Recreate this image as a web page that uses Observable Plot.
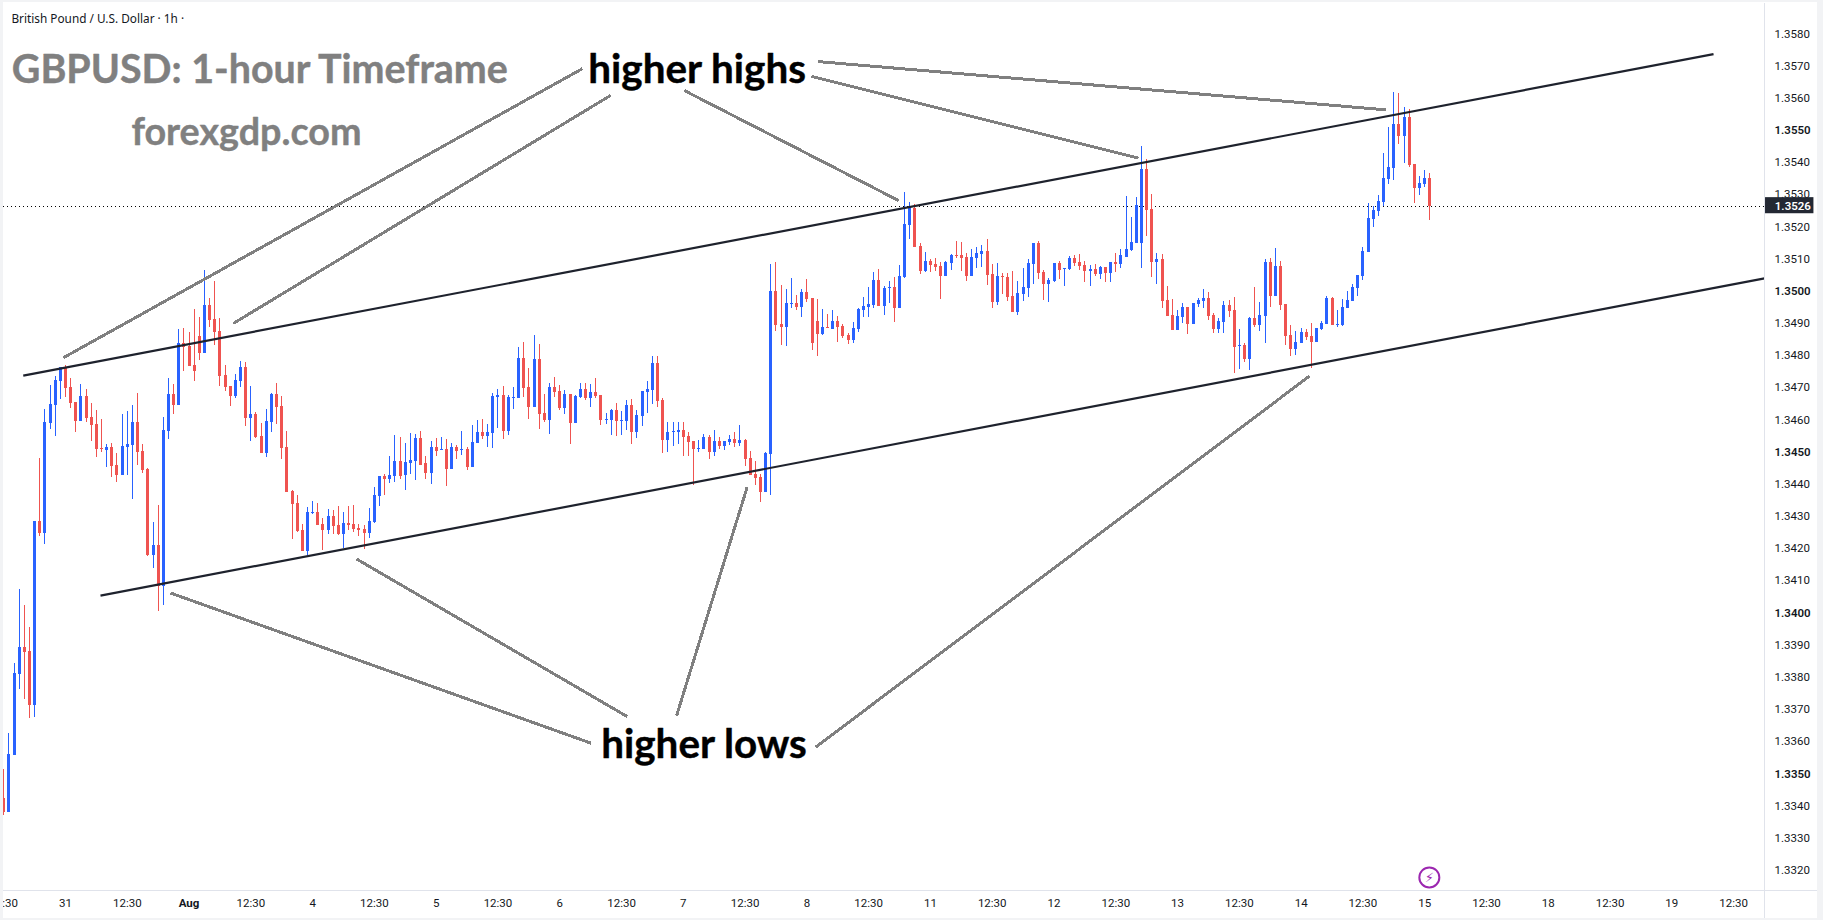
<!DOCTYPE html>
<html><head><meta charset="utf-8">
<style>
html,body{margin:0;padding:0;background:#fff;overflow:hidden}
#wrap{position:relative;width:1823px;height:920px}
#wrap svg{display:block}
#edge{position:absolute;inset:0;box-sizing:border-box;border-style:solid;border-color:#f2f3f5;border-width:2px 6px 2px 3px;pointer-events:none}
</style>
<script src="https://cdn.jsdelivr.net/npm/d3@7"></script>
<script src="https://cdn.jsdelivr.net/npm/@observablehq/plot@0.6"></script>
</head><body><div id="wrap"><div id="edge"></div></div>
<script>
const opens=[1.33423,1.33381,1.33557,1.33810,1.33893,1.33881,1.33713,1.34284,1.34247,1.34590,
1.34645,1.34720,1.34763,1.34701,1.34654,1.34595,1.34673,1.34608,1.34586,1.34511,
1.34505,1.34514,1.34459,1.34427,1.34514,1.34521,1.34592,1.34502,1.34446,1.34179,
1.34210,1.34082,1.34565,1.34679,1.34645,1.34838,1.34828,1.34769,1.34859,1.34807,
1.34956,1.34912,1.34875,1.34738,1.34704,1.34673,1.34720,1.34763,1.34605,1.34617,
1.34549,1.34496,1.34592,1.34679,1.34642,1.34514,1.34378,1.34340,1.34257,1.34191,
1.34309,1.34312,1.34275,1.34257,1.34300,1.34272,1.34244,1.34278,1.34275,1.34263,
1.34260,1.34247,1.34281,1.34362,1.34424,1.34415,1.34424,1.34471,1.34427,1.34465,
1.34471,1.34542,1.34465,1.34434,1.34515,1.34505,1.34508,1.34446,1.34515,1.34505,
1.34508,1.34452,1.34527,1.34561,1.34549,1.34558,1.34670,1.34676,1.34564,1.34667,
1.34667,1.34791,1.34701,1.34639,1.34788,1.34620,1.34598,1.34701,1.34689,1.34636,
1.34679,1.34589,1.34670,1.34695,1.34667,1.34685,1.34676,1.34598,1.34598,1.34629,
1.34595,1.34595,1.34645,1.34561,1.34611,1.34685,1.34692,1.34776,1.34661,1.34536,
1.34561,1.34561,1.34567,1.34549,1.34533,1.34508,1.34508,1.34546,1.34499,1.34533,
1.34518,1.34530,1.34539,1.34527,1.34536,1.34480,1.34431,1.34421,1.34375,1.34493,
1.34999,1.34897,1.34887,1.34959,1.34962,1.34949,1.34996,1.34977,1.34906,1.34865,
1.34887,1.34881,1.34906,1.34890,1.34862,1.34847,1.34881,1.34940,1.34949,1.34955,
1.35033,1.34952,1.35008,1.35011,1.34946,1.35043,1.35204,1.35257,1.35139,1.35061,
1.35092,1.35083,1.35077,1.35046,1.35086,1.35111,1.35111,1.35105,1.35046,1.35102,
1.35114,1.35123,1.35052,1.34965,1.35046,1.35043,1.34983,1.34934,1.34990,1.35008,
1.35083,1.35148,1.35058,1.35021,1.35030,1.35086,1.35067,1.35067,1.35102,1.35089,
1.35080,1.35061,1.35067,1.35052,1.35074,1.35055,1.35089,1.35083,1.35105,1.35126,
1.35148,1.35148,1.35378,1.35254,1.35089,1.35099,1.34971,1.34925,1.34878,1.34918,
1.34950,1.34897,1.34959,1.34968,1.34977,1.34925,1.34881,1.34903,1.34956,1.34940,
1.34828,1.34831,1.34788,1.34915,1.34894,1.34922,1.35089,1.34984,1.35077,1.34959,
1.34862,1.34819,1.34838,1.34872,1.34859,1.34841,1.34881,1.34897,1.34977,1.34894,
1.34894,1.34946,1.34968,1.35009,1.35046,1.35120,1.35223,1.35248,1.35276,1.35347,
1.35382,1.35518,1.35481,1.35540,1.35394,1.35319,1.35332,1.35350];
const highs=[1.33513,1.33625,1.33844,1.34073,1.34023,1.33955,1.34285,1.34480,1.34633,1.34707,
1.34735,1.34763,1.34769,1.34729,1.34654,1.34710,1.34695,1.34651,1.34629,1.34602,
1.34524,1.34527,1.34496,1.34617,1.34626,1.34645,1.34682,1.34524,1.34449,1.34281,
1.34334,1.34608,1.34729,1.34710,1.34881,1.34884,1.34872,1.34943,1.34919,1.35065,
1.34978,1.35030,1.34915,1.34769,1.34704,1.34741,1.34782,1.34779,1.34704,1.34623,
1.34589,1.34633,1.34682,1.34713,1.34673,1.34564,1.34381,1.34365,1.34275,1.34328,
1.34347,1.34340,1.34294,1.34322,1.34319,1.34331,1.34312,1.34331,1.34334,1.34275,
1.34272,1.34325,1.34390,1.34424,1.34431,1.34487,1.34552,1.34546,1.34527,1.34557,
1.34555,1.34564,1.34487,1.34533,1.34542,1.34546,1.34539,1.34527,1.34521,1.34564,
1.34515,1.34583,1.34598,1.34602,1.34586,1.34682,1.34695,1.34704,1.34676,1.34701,
1.34825,1.34841,1.34760,1.34863,1.34835,1.34679,1.34713,1.34732,1.34707,1.34692,
1.34679,1.34676,1.34713,1.34713,1.34710,1.34729,1.34676,1.34620,1.34633,1.34651,
1.34626,1.34661,1.34664,1.34629,1.34689,1.34720,1.34797,1.34797,1.34667,1.34592,
1.34592,1.34592,1.34592,1.34561,1.34533,1.34536,1.34555,1.34552,1.34567,1.34546,
1.34533,1.34552,1.34561,1.34583,1.34539,1.34502,1.34471,1.34431,1.34499,1.35083,
1.35089,1.35018,1.35006,1.35040,1.34987,1.35005,1.35036,1.34977,1.34974,1.34943,
1.34928,1.34940,1.34921,1.34896,1.34868,1.34903,1.34946,1.34980,1.35011,1.35058,
1.35067,1.35015,1.35030,1.35043,1.35080,1.35307,1.35276,1.35269,1.35148,1.35120,
1.35098,1.35102,1.35089,1.35092,1.35114,1.35154,1.35151,1.35117,1.35130,1.35136,
1.35142,1.35161,1.35083,1.35086,1.35055,1.35055,1.35061,1.35030,1.35071,1.35098,
1.35148,1.35154,1.35064,1.35039,1.35086,1.35092,1.35070,1.35108,1.35111,1.35114,
1.35092,1.35080,1.35083,1.35077,1.35074,1.35089,1.35117,1.35130,1.35294,1.35229,
1.35291,1.35450,1.35409,1.35301,1.35117,1.35114,1.35015,1.34974,1.34940,1.34962,
1.34950,1.34962,1.34977,1.35005,1.34996,1.34931,1.34915,1.34968,1.34971,1.34981,
1.34881,1.34838,1.34918,1.35012,1.34965,1.35099,1.35102,1.35133,1.35092,1.34959,
1.34894,1.34875,1.34884,1.34881,1.34900,1.34884,1.34906,1.34984,1.34981,1.34940,
1.34974,1.34999,1.35021,1.35049,1.35136,1.35273,1.35263,1.35298,1.35428,1.35509,
1.35618,1.35615,1.35571,1.35565,1.35394,1.35357,1.35375,1.35366];
const lows=[1.33371,1.33381,1.33557,1.33762,1.33731,1.33672,1.33675,1.34238,1.34213,1.34570,
1.34547,1.34664,1.34670,1.34636,1.34561,1.34595,1.34592,1.34533,1.34483,1.34499,
1.34452,1.34421,1.34406,1.34427,1.34427,1.34353,1.34459,1.34434,1.34176,1.34138,
1.34005,1.34023,1.34539,1.34617,1.34645,1.34751,1.34766,1.34720,1.34785,1.34807,
1.34887,1.34831,1.34704,1.34689,1.34642,1.34667,1.34701,1.34580,1.34533,1.34542,
1.34496,1.34483,1.34561,1.34586,1.34477,1.34375,1.34229,1.34250,1.34191,1.34179,
1.34306,1.34272,1.34194,1.34244,1.34244,1.34241,1.34201,1.34257,1.34250,1.34238,
1.34198,1.34232,1.34278,1.34331,1.34365,1.34403,1.34406,1.34415,1.34381,1.34431,
1.34412,1.34459,1.34415,1.34400,1.34487,1.34505,1.34393,1.34446,1.34477,1.34490,
1.34443,1.34452,1.34527,1.34539,1.34515,1.34511,1.34574,1.34539,1.34552,1.34633,
1.34667,1.34670,1.34602,1.34639,1.34570,1.34592,1.34555,1.34670,1.34629,1.34617,
1.34524,1.34589,1.34667,1.34661,1.34639,1.34667,1.34583,1.34586,1.34552,1.34549,
1.34552,1.34567,1.34524,1.34542,1.34580,1.34620,1.34648,1.34639,1.34496,1.34499,
1.34518,1.34524,1.34487,1.34487,1.34396,1.34499,1.34508,1.34477,1.34487,1.34508,
1.34505,1.34521,1.34515,1.34518,1.34455,1.34427,1.34396,1.34344,1.34375,1.34365,
1.34875,1.34831,1.34828,1.34947,1.34940,1.34918,1.34965,1.34816,1.34797,1.34862,
1.34884,1.34881,1.34841,1.34853,1.34834,1.34837,1.34872,1.34918,1.34918,1.34946,
1.34952,1.34924,1.34962,1.34903,1.34946,1.35039,1.35161,1.35136,1.35052,1.35058,
1.35058,1.35061,1.34974,1.35046,1.35064,1.35102,1.35061,1.35030,1.35046,1.35071,
1.35074,1.35018,1.34946,1.34955,1.34990,1.34968,1.34934,1.34924,1.34968,1.34980,
1.35021,1.35036,1.34971,1.34965,1.35027,1.35036,1.35015,1.35064,1.35077,1.35064,
1.35027,1.35015,1.35046,1.35036,1.35027,1.35027,1.35058,1.35071,1.35105,1.35123,
1.35148,1.35071,1.35170,1.35043,1.35021,1.34946,1.34922,1.34878,1.34878,1.34900,
1.34866,1.34897,1.34950,1.34946,1.34909,1.34869,1.34869,1.34869,1.34918,1.34744,
1.34757,1.34779,1.34754,1.34887,1.34875,1.34838,1.34950,1.34984,1.34940,1.34831,
1.34797,1.34800,1.34838,1.34847,1.34760,1.34841,1.34878,1.34897,1.34894,1.34887,
1.34890,1.34946,1.34968,1.34984,1.35033,1.35120,1.35198,1.35232,1.35263,1.35332,
1.35344,1.35456,1.35397,1.35385,1.35273,1.35298,1.35322,1.35220];
const closes=[1.33381,1.33560,1.33812,1.33893,1.33877,1.33713,1.34285,1.34247,1.34592,1.34648,
1.34723,1.34763,1.34698,1.34651,1.34595,1.34673,1.34605,1.34583,1.34508,1.34508,
1.34514,1.34455,1.34427,1.34518,1.34524,1.34592,1.34499,1.34443,1.34179,1.34210,
1.34082,1.34567,1.34679,1.34645,1.34838,1.34825,1.34766,1.34751,1.34807,1.34956,
1.34909,1.34872,1.34735,1.34701,1.34673,1.34723,1.34763,1.34605,1.34617,1.34546,
1.34496,1.34595,1.34679,1.34639,1.34511,1.34375,1.34337,1.34253,1.34191,1.34312,
1.34312,1.34272,1.34257,1.34300,1.34269,1.34244,1.34278,1.34272,1.34260,1.34257,
1.34247,1.34285,1.34365,1.34424,1.34415,1.34427,1.34471,1.34424,1.34468,1.34474,
1.34542,1.34459,1.34434,1.34515,1.34502,1.34508,1.34446,1.34515,1.34502,1.34508,
1.34452,1.34530,1.34561,1.34549,1.34561,1.34673,1.34676,1.34564,1.34670,1.34670,
1.34791,1.34698,1.34639,1.34788,1.34617,1.34598,1.34701,1.34685,1.34636,1.34679,
1.34589,1.34673,1.34695,1.34667,1.34685,1.34673,1.34598,1.34602,1.34629,1.34595,
1.34598,1.34645,1.34561,1.34614,1.34689,1.34695,1.34776,1.34657,1.34536,1.34561,
1.34564,1.34567,1.34546,1.34530,1.34508,1.34511,1.34546,1.34499,1.34533,1.34518,
1.34533,1.34539,1.34527,1.34536,1.34477,1.34427,1.34418,1.34375,1.34496,1.34999,
1.34894,1.34887,1.34962,1.34962,1.34950,1.34996,1.34974,1.34837,1.34865,1.34887,
1.34884,1.34906,1.34887,1.34859,1.34847,1.34884,1.34943,1.34952,1.34959,1.35033,
1.34952,1.35008,1.35011,1.34946,1.35046,1.35207,1.35263,1.35136,1.35061,1.35092,
1.35080,1.35074,1.35046,1.35089,1.35111,1.35108,1.35102,1.35046,1.35105,1.35117,
1.35123,1.35049,1.34965,1.35046,1.35043,1.34980,1.34934,1.34993,1.35011,1.35086,
1.35148,1.35055,1.35021,1.35033,1.35086,1.35064,1.35070,1.35102,1.35086,1.35077,
1.35061,1.35067,1.35052,1.35074,1.35055,1.35089,1.35083,1.35111,1.35130,1.35151,
1.35266,1.35378,1.35251,1.35089,1.35099,1.34968,1.34922,1.34878,1.34922,1.34950,
1.34897,1.34962,1.34971,1.34977,1.34922,1.34881,1.34906,1.34956,1.34937,1.34825,
1.34831,1.34788,1.34915,1.34894,1.34925,1.35089,1.34984,1.35077,1.34956,1.34859,
1.34819,1.34841,1.34872,1.34856,1.34841,1.34884,1.34900,1.34977,1.34894,1.34897,
1.34950,1.34971,1.35012,1.35049,1.35124,1.35226,1.35251,1.35279,1.35350,1.35385,
1.35518,1.35481,1.35540,1.35391,1.35319,1.35335,1.35350,1.35265];

const timeTicks=d3.range(0,337,12);
const timeLabels=["12:30","31","12:30","Aug","12:30","4","12:30","5","12:30","6","12:30","7","12:30","8","12:30","11","12:30","12","12:30","13","12:30","14","12:30","15","12:30","18","12:30","19","12:30"];
const priceTicks=d3.range(3320,3581,10).map(v=>(10000+v)/10000);
const boldPrices=[1.3350,1.3400,1.3450,1.3500,1.3550];

// trendlines: candle index / price
const trendX1=[3.8,18.8], trendY1=[1.34738,1.34054], trendX2=[332.1,342.0], trendY2=[1.35737,1.35040];
// grey call-outs from the labels to the swings
const calloutX1=[112.4,117.9,132.2,156.9,158.1,114.1,121.1,130.7,157.7];
const calloutY1=[1.35692,1.35609,1.35624,1.35668,1.35714,1.33595,1.33678,1.33681,1.33583];
const calloutX2=[11.56,44.6,173.8,220.4,268.4,32.4,68.5,144.4,253.6];
const calloutY2=[1.34793,1.34900,1.35282,1.35414,1.35564,1.34062,1.34168,1.34391,1.34736];

const candles=opens.map((o,i)=>({i,o,h:highs[i],l:lows[i],c:closes[i]}));
const BLUE="#2962ff",RED="#ef5350",INK="#131722",GREY="#808080";
const colour=d=>d.c>=d.o?BLUE:RED;
const last=closes[closes.length-1];
const xMin=-0.04,xMax=342,yTop=1.358945,yBottom=1.331373;
const head=(text,x,y,size,fill)=>Plot.text([text],{x:()=>x,y:()=>y,text:d=>d,fontSize:size,fill,stroke:fill,strokeWidth:0.4,fontFamily:"Lato",fontWeight:700,textAnchor:"start",lineAnchor:"bottom"});

const chart=Plot.plot({
  width:1823,height:920,marginLeft:3,marginRight:59,marginTop:3,marginBottom:30,
  style:{background:"#fff",fontFamily:"Roboto"},
  x:{domain:[xMin,xMax],axis:null},
  y:{domain:[yBottom,yTop],axis:null},
  marks:[
    Plot.ruleY([last],{x1:xMin,x2:xMax,stroke:"#000",strokeWidth:1,strokeDasharray:"1 3",shapeRendering:"crispEdges"}),
    Plot.ruleX(candles,{x:"i",y1:"l",y2:"h",stroke:colour,strokeWidth:1,shapeRendering:"crispEdges",clip:"frame"}),
    Plot.ruleX(candles,{x:"i",y1:"o",y2:"c",stroke:colour,strokeWidth:3,shapeRendering:"crispEdges",clip:"frame"}),
    Plot.link(d3.range(2),{x1:i=>trendX1[i],y1:i=>trendY1[i],x2:i=>trendX2[i],y2:i=>trendY2[i],stroke:"#1e222d",strokeWidth:2.2}),
    Plot.link(d3.range(9),{x1:i=>calloutX1[i],y1:i=>calloutY1[i],x2:i=>calloutX2[i],y2:i=>calloutY2[i],stroke:GREY,strokeWidth:3,shapeRendering:"crispEdges"}),
    Plot.ruleX([xMax],{y1:1.3305,y2:yTop,stroke:"#e0e3eb"}),
    Plot.ruleY([yBottom],{x1:xMin,x2:352.3,stroke:"#e0e3eb"}),
    Plot.axisY({anchor:"right",ticks:priceTicks.filter(p=>!boldPrices.includes(p)),tickSize:0,tickPadding:10,tickFormat:d=>d.toFixed(4),fontSize:11.5,fill:INK,label:null}),
    Plot.axisY({anchor:"right",ticks:boldPrices,tickSize:0,tickPadding:10,tickFormat:d=>d.toFixed(4),fontSize:11.5,fontWeight:600,fill:INK,label:null}),
    Plot.axisX({anchor:"bottom",ticks:timeTicks.filter(t=>timeLabels[t/12]!=="Aug"),tickSize:0,tickPadding:8,tickFormat:d=>timeLabels[d/12],fontSize:11.5,fill:INK,label:null}),
    Plot.axisX({anchor:"bottom",ticks:[36],tickSize:0,tickPadding:8,tickFormat:d=>timeLabels[d/12],fontSize:11.5,fontWeight:700,fill:INK,label:null}),
    Plot.rect([0],{x1:()=>342.2,x2:()=>351.6,y1:()=>1.35241,y2:()=>1.35291,fill:"#232833"}),
    Plot.text(["1.3526"],{x:()=>344.0,y:()=>last,text:d=>d,fill:"#fff",fontWeight:600,fontSize:11.5,textAnchor:"start"}),
    Plot.text(["British Pound / U.S. Dollar · 1h ·"],{x:()=>1.5,y:()=>1.35847,text:d=>d,fill:INK,fontSize:11.8,fontFamily:"Noto Sans",textAnchor:"start"}),
    head("GBPUSD: 1-hour Timeframe",1.57,1.35648,39.4,GREY),
    head("forexgdp.com",24.8,1.35455,37.7,GREY),
    head("higher highs",113.55,1.35647,40.4,"#000"),
    head("higher lows",116.06,1.33548,40.4,"#000"),
    Plot.dot([0],{x:()=>276.9,y:()=>1.33178,r:10,stroke:"#9c27b0",strokeWidth:2,fill:"#fff"}),
    Plot.text(["⚡"],{x:()=>276.9,y:()=>1.33178,text:d=>d,fill:"#9c27b0",fontSize:13,fontFamily:"DejaVu Sans"})
  ]
});
document.getElementById("wrap").prepend(chart);
</script></body></html>
